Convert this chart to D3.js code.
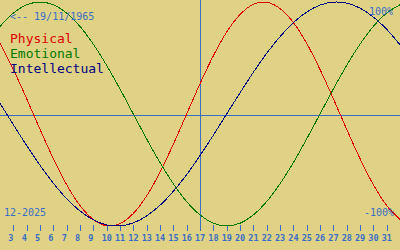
<!DOCTYPE html>
<html>
<head>
<meta charset="utf-8">
<script src="https://cdn.jsdelivr.net/npm/d3@7"></script>
<style>
    body { margin: 0; background: #e0d284; }
    svg { display: block; }
    text { font-family: "DejaVu Sans Mono", monospace; }
</style>
</head>
<body>
<svg id="chart"></svg>
<script>
// days of the month shown on the axis
const days = d3.range(2, 33)
const tickDays = d3.range(3, 32)
const today = 17

// cycle values per day (-1 .. 1)
const physical = [0.631, 0.398, 0.136, -0.136, -0.398, -0.631, -0.817, -0.942, -0.998, -0.979,
    -0.888, -0.731, -0.520, -0.270, 0, 0.270, 0.520, 0.731, 0.888, 0.979,
    0.998, 0.942, 0.817, 0.631, 0.398, 0.136, -0.136, -0.398, -0.631, -0.817, -0.942]
const emotional = [0.782, 0.901, 0.975, 1, 0.975, 0.901, 0.782, 0.623, 0.434, 0.223,
    0, -0.223, -0.434, -0.623, -0.782, -0.901, -0.975, -1, -0.975, -0.901,
    -0.782, -0.623, -0.434, -0.223, 0, 0.223, 0.434, 0.623, 0.782, 0.901, 0.975]
const intellectual = [0.095, -0.095, -0.282, -0.458, -0.618, -0.756, -0.866, -0.945, -0.990, -0.999,
    -0.972, -0.910, -0.815, -0.690, -0.541, -0.372, -0.189, 0, 0.189, 0.372,
    0.541, 0.690, 0.815, 0.910, 0.972, 0.999, 0.990, 0.945, 0.866, 0.756, 0.618]

const seriesNames = ["Physical", "Emotional", "Intellectual"]
const seriesColors = ["#dd0000", "#007800", "#000080"]
const seriesData = [physical, emotional, intellectual]

const birthLabel = "<-- 19/11/1965"
const monthLabel = "12-2025"
const topLabel = "100%"
const bottomLabel = "-100%"

const width = 400
const height = 250
const blue = "#3a6ec6"

const svg = d3.select("#chart")
    .attr("width", width)
    .attr("height", height)

const x = d3.scaleLinear().domain([2, 32]).range([0, width])
const y = d3.scaleLinear().domain([-1, 1]).range([226, 2])

// zero line and today line
const zeroY = Math.round(y(0)) + 1.5
svg.append("line")
    .attr("x1", 0).attr("x2", width)
    .attr("y1", zeroY).attr("y2", zeroY)
    .attr("stroke", blue)
    .attr("shape-rendering", "crispEdges")
svg.append("line")
    .attr("x1", x(today) + 0.5).attr("x2", x(today) + 0.5)
    .attr("y1", 0).attr("y2", 230)
    .attr("stroke", blue)
    .attr("shape-rendering", "crispEdges")

// day axis
const axis = svg.append("g").attr("transform", "translate(0,225)")
axis.selectAll("line")
    .data(tickDays)
    .enter()
    .append("line")
    .attr("x1", d => Math.round(x(d)) + 0.5)
    .attr("x2", d => Math.round(x(d)) + 0.5)
    .attr("y1", 0)
    .attr("y2", 6)
    .attr("stroke", blue)
    .attr("shape-rendering", "crispEdges")
axis.selectAll("text")
    .data(tickDays)
    .enter()
    .append("text")
    .attr("x", d => x(d) - 5)
    .attr("y", 16)
    .attr("font-size", "8.5px")
    .attr("font-weight", "bold")
    .attr("fill", blue)
    .text(d => d)

// curves
const line = d3.line()
    .x((d, i) => x(days[i]))
    .y(d => y(d))
    .curve(d3.curveCatmullRom)

svg.selectAll("path.cycle")
    .data(seriesData)
    .enter()
    .append("path")
    .attr("class", "cycle")
    .attr("d", line)
    .attr("fill", "none")
    .attr("stroke", (d, i) => seriesColors[i])
    .attr("stroke-width", 1)
    .attr("shape-rendering", "crispEdges")

// labels
svg.append("text")
    .attr("x", 10).attr("y", 20)
    .attr("font-size", "10px")
    .attr("fill", blue)
    .text(birthLabel)
svg.append("text")
    .attr("x", 4).attr("y", 216)
    .attr("font-size", "10px")
    .attr("fill", blue)
    .text(monthLabel)
svg.append("text")
    .attr("x", 393).attr("y", 15)
    .attr("text-anchor", "end")
    .attr("font-size", "10px")
    .attr("fill", blue)
    .text(topLabel)
svg.append("text")
    .attr("x", 394).attr("y", 216)
    .attr("text-anchor", "end")
    .attr("font-size", "10px")
    .attr("fill", blue)
    .text(bottomLabel)

// legend
svg.selectAll("text.legend")
    .data(seriesNames)
    .enter()
    .append("text")
    .attr("class", "legend")
    .attr("x", 10)
    .attr("y", (d, i) => 43 + i * 15)
    .attr("font-size", "13px")
    .attr("fill", (d, i) => seriesColors[i])
    .text(d => d)
</script>
</body>
</html>
